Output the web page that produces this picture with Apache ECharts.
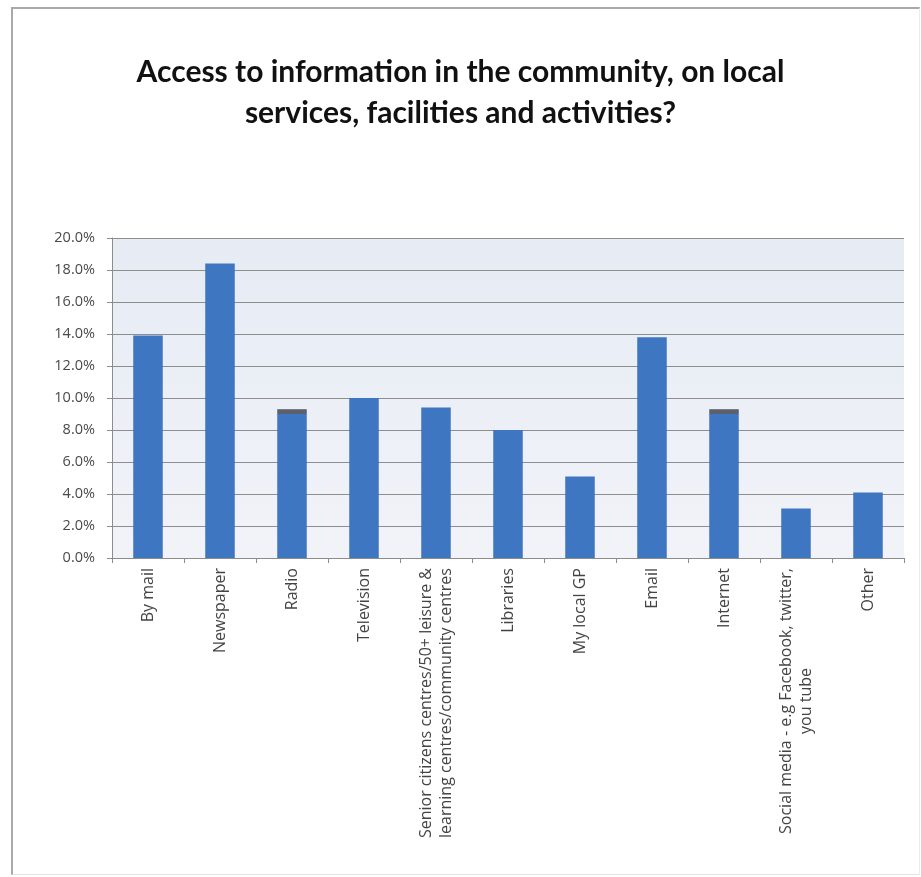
<!DOCTYPE html>
<html>
<head>
<meta charset="utf-8">
<script src="https://cdn.jsdelivr.net/npm/echarts@6/dist/echarts.min.js"></script>
<style>
  html, body { margin: 0; padding: 0; background: #ffffff; }
  #frame {
    position: absolute; left: 11px; top: 7px; width: 909px; height: 868px;
    border-top: 2px solid #a9a9a9; border-left: 2px solid #a9a9a9;
    border-bottom: 1px solid #e2e2e2; border-right: 1px solid #ececec;
    box-sizing: border-box;
  }
  #chart { position: absolute; left: 0; top: 0; width: 921px; height: 877px; }
</style>
</head>
<body>
<div id="frame"></div>
<div id="chart"></div>
<script>
// Survey responses: share of people naming each source of information
const categories = [
  'By mail',
  'Newspaper',
  'Radio',
  'Television',
  'Senior citizens centres/50+ leisure &\nlearning centres/community centres',
  'Libraries',
  'My local GP',
  'Email',
  'Internet',
  'Social media - e.g Facebook, twitter,\nyou tube',
  'Other'
];
const mainValues = [13.9, 18.4, 9.0, 10.0, 9.4, 8.0, 5.1, 13.8, 9.0, 3.1, 4.1];
const capValues  = [0, 0, 0.3, 0, 0, 0, 0, 0, 0.3, 0, 0];
const yTicks = { min: 0, max: 20, interval: 2 };

const chart = echarts.init(document.getElementById('chart'), null, { renderer: 'canvas' });

const labelFont = 'Open Sans';

chart.setOption({
  backgroundColor: 'transparent',
  animation: false,
  title: {
    text: 'Access to information in the community, on local\nservices, facilities and activities?',
    left: 'center',
    top: 47,
    textStyle: {
      fontFamily: 'Lato',
      fontWeight: 'bold',
      fontSize: 30,
      lineHeight: 41,
      color: '#111111'
    }
  },
  grid: { left: 112, right: 17, top: 238, bottom: 319, containLabel: false },
  xAxis: {
    type: 'category',
    data: categories,
    axisLine: { lineStyle: { color: '#8c8c8c', width: 1 } },
    axisTick: { show: true, alignWithLabel: false, length: 5, lineStyle: { color: '#8c8c8c' } },
    axisLabel: {
      rotate: 90,
      interval: 0,
      margin: 10,
      fontFamily: labelFont,
      fontSize: 16,
      color: '#444444',
      lineHeight: 20,
      formatter: function (v) {
        return v.split('\n').map(function (l) { return '{c|' + l + '}'; }).join('\n');
      },
      rich: { c: { align: 'center', fontFamily: labelFont, fontSize: 16, color: '#444444', lineHeight: 20 } }
    }
  },
  yAxis: {
    type: 'value',
    min: yTicks.min,
    max: yTicks.max,
    interval: yTicks.interval,
    axisLine: { show: true, lineStyle: { color: '#8c8c8c' } },
    axisTick: { show: true, length: 5, lineStyle: { color: '#8c8c8c' } },
    axisLabel: {
      margin: 17,
      fontFamily: labelFont,
      fontSize: 14.5,
      color: '#4a4a4a',
      formatter: function (v) { return v.toFixed(1) + '%'; }
    },
    splitLine: { show: true, lineStyle: { color: '#8e8e8e', width: 1 } },
    splitArea: { show: false }
  },
  graphic: [{
    type: 'rect',
    z: -1,
    silent: true,
    shape: { x: 112, y: 238, width: 792, height: 320 },
    style: {
      fill: new echarts.graphic.LinearGradient(0, 0, 0, 1, [
        { offset: 0, color: '#e6ebf4' },
        { offset: 1, color: '#f1f3f8' }
      ])
    }
  }],
  series: [
    {
      name: 'Responses',
      type: 'bar',
      stack: 'total',
      data: mainValues,
      barWidth: '41%',
      itemStyle: { color: '#3e76c1' }
    },
    {
      name: 'Responses (other)',
      type: 'bar',
      stack: 'total',
      data: capValues,
      barWidth: '41%',
      itemStyle: { color: '#5c5f6e' }
    }
  ]
});
</script>
</body>
</html>
